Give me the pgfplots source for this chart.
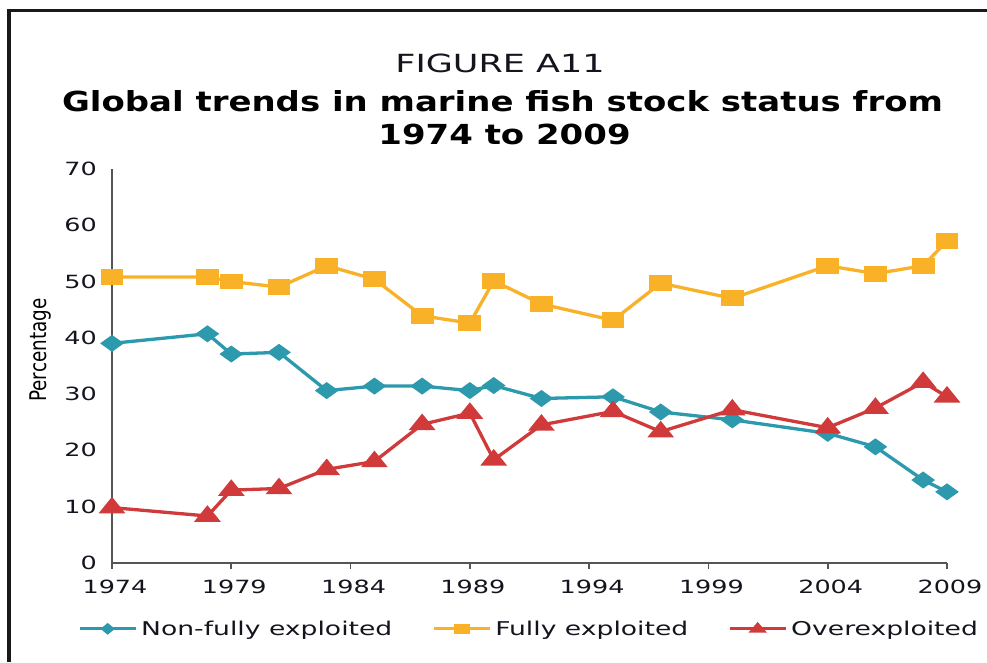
\documentclass[border=0pt]{standalone}
\usepackage{fontspec}
\usepackage{graphicx}
\usepackage{pgfplots}
\pgfplotsset{compat=1.18}
\setmainfont{DejaVu Sans}
\newfontfamily\regfont{DejaVu Sans}[FakeStretch=1.4]
\newfontfamily\titlefont{DejaVu Sans}[FakeStretch=1.23]
\definecolor{cteal}{RGB}{44,153,173}
\definecolor{corange}{RGB}{249,177,40}
\definecolor{cred}{RGB}{208,58,58}
\definecolor{axgray}{RGB}{85,85,85}
\definecolor{txt}{RGB}{20,20,30}

\pgfplotstableread{
year val
1974 39.0
1978 40.7
1979 37.1
1981 37.4
1983 30.6
1985 31.4
1987 31.4
1989 30.6
1990 31.5
1992 29.2
1995 29.5
1997 26.8
2000 25.4
2004 23.0
2006 20.6
2008 14.7
2009 12.6
}\nonfullytab
\pgfplotstableread{
year val
1974 50.8
1978 50.8
1979 50.0
1981 49.0
1983 52.8
1985 50.4
1987 43.9
1989 42.6
1990 50.1
1992 46.0
1995 43.1
1997 49.7
2000 47.0
2004 52.8
2006 51.4
2008 52.8
2009 57.2
}\fullytab
\pgfplotstableread{
year val
1974 9.8
1978 8.3
1979 12.9
1981 13.2
1983 16.6
1985 18.0
1987 24.6
1989 26.6
1990 18.3
1992 24.5
1995 26.9
1997 23.3
2000 27.2
2004 24.0
2006 27.5
2008 32.1
2009 29.5
}\overtab

\begin{document}
\begin{tikzpicture}[x=1pt,y=1pt]
\path[use as bounding box] (0pt,0pt) rectangle (987pt,662pt);
\draw[line width=3.2pt, color=black!90] (9pt,0pt) -- (9pt,651.5pt) -- (987pt,651.5pt);

\node[anchor=base, text=txt, inner sep=0pt] at (500pt,589pt) {\regfont\fontsize{25}{30}\selectfont FIGURE A11};
\node[anchor=base, text=black, inner sep=0pt] at (502.5pt,550pt) {\titlefont\bfseries\fontsize{27.6}{30}\selectfont Global trends in marine fish stock status from};
\node[anchor=base, text=black, inner sep=0pt] at (504.5pt,517pt) {\titlefont\bfseries\fontsize{27.6}{30}\selectfont 1974 to 2009};

\begin{axis}[
  at={(112pt,99.3pt)}, anchor=south west,
  scale only axis, width=835pt, height=393.7pt,
  xmin=1974, xmax=2009, ymin=0, ymax=70,
  clip=false,
  axis x line=bottom, axis y line=left,
  axis line style={-, axgray, line width=1.6pt},
  xtick={1974,1979,1984,1989,1994,1999,2004,2009},
  xticklabels={1974,1979,1984,1989,1994,1999,2004,2009},
  ytick={0,10,20,30,40,50,60,70},
  yticklabels={0,10,20,30,40,50,60,70},
  tick align=outside,
  major tick length=6pt,
  xtick style={axgray, line width=1.6pt},
  ytick style={draw=none},
  xticklabel style={anchor=north, inner sep=0pt, yshift=-11pt, xshift=3pt, text=txt, font=\regfont\fontsize{18.2}{18.2}\selectfont},
  yticklabel style={anchor=east, inner sep=0pt, xshift=-9pt, text=txt, font=\regfont\fontsize{18.2}{18.2}\selectfont},
  ylabel={\scalebox{1.08}[1.35]{\fontsize{17}{17}\selectfont Percentage}},
  ylabel style={at={(axis description cs:-0.085,0.54)}, anchor=center, text=black},
  legend columns=3,
  legend style={draw=none, fill=none, at={(axis description cs:-0.0405,-0.168)}, anchor=west,
    inner sep=0pt, outer sep=0pt,
    nodes={inner sep=0pt, text=txt, font=\regfont\fontsize{19}{19}\selectfont},
    /tikz/every even column/.append style={column sep=40pt},
    /tikz/every odd column/.append style={column sep=4pt}},
  legend image code/.code={\draw[mark repeat=2,mark phase=2,#1] plot coordinates {(0pt,0pt) (28pt,0pt) (56pt,0pt)};},
]
\addplot[cteal, line width=3.3pt, mark=diamond*, mark size=6.5pt, mark options={xscale=1.85, solid, fill=cteal}, forget plot] table[x=year, y=val] {\nonfullytab};
\addplot[corange, line width=3.3pt, mark=square*, mark size=6.3pt, mark options={xscale=1.55, solid, fill=corange}, forget plot] table[x=year, y=val] {\fullytab};
\addplot[cred, line width=3.3pt, mark=triangle*, mark size=8.2pt, mark options={xscale=1.4, solid, fill=cred}, forget plot] table[x=year, y=val] {\overtab};

\addlegendimage{cteal, line width=3pt, mark=diamond*, mark size=4pt, mark options={xscale=1.6, solid, fill=cteal}}
\addlegendentry{Non-fully exploited}
\addlegendimage{corange, line width=3pt, mark=square*, mark size=3.6pt, mark options={xscale=1.8, solid, fill=corange}}
\addlegendentry{Fully exploited}
\addlegendimage{cred, line width=3pt, mark=triangle*, mark size=4.6pt, mark options={xscale=1.5, solid, fill=cred}}
\addlegendentry{Overexploited}
\end{axis}
\end{tikzpicture}
\end{document}
